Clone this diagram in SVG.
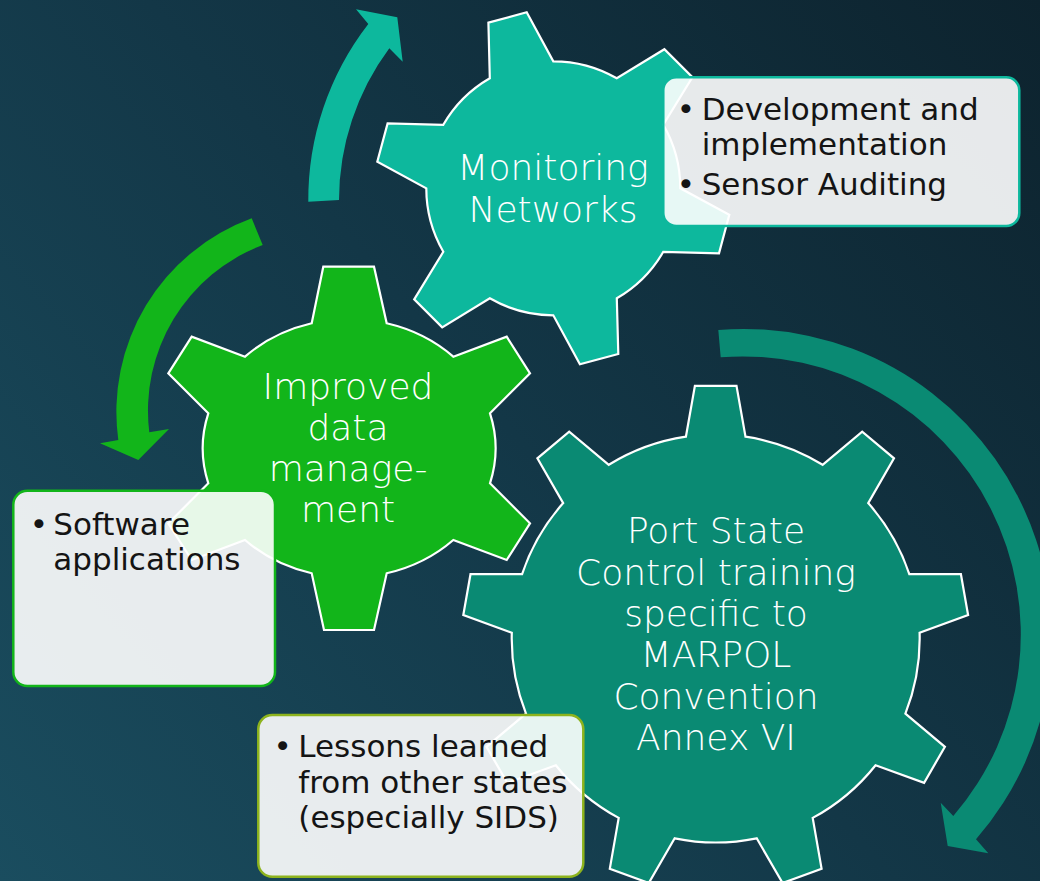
<svg xmlns="http://www.w3.org/2000/svg" width="1040" height="881" viewBox="0 0 1040 881">
<defs>
<linearGradient id="bg" x1="1040" y1="0" x2="0" y2="881" gradientUnits="userSpaceOnUse">
<stop offset="0" stop-color="#0d232e"/>
<stop offset="0.5" stop-color="#133747"/>
<stop offset="1" stop-color="#1a4d5f"/>
</linearGradient>
<style>
.gear{stroke:#ffffff;stroke-width:2.2;stroke-linejoin:miter}
.c1{fill:#0db89d}
.c2{fill:#12b51a}
.c3{fill:#0a8a73}
.gt{font-family:"DejaVu Sans","Liberation Sans",sans-serif;font-size:36px;fill:#ffffff;text-anchor:middle;font-weight:200}
.box{fill:#ffffff;fill-opacity:0.9;stroke-width:2.5}
.bt{font-family:"DejaVu Sans","Liberation Sans",sans-serif;font-size:31px;fill:#141414}
.bu{font-family:"DejaVu Sans","Liberation Sans",sans-serif;font-size:31px;fill:#141414;text-anchor:middle}
</style>
</defs>
<rect x="0" y="0" width="1040" height="881" fill="url(#bg)"/>
<g id="connectors">
<path id="arrow-monitoring" class="c1" d="M 308.3 201.7 A 287 287 0 0 1 368.3 24 L 356 9.3 L 397.3 17.3 L 402.7 61.7 L 389.3 48.3 A 256 256 0 0 0 339 200 Z"/>
<path id="arrow-data" class="c2" d="M 251.7 218.3 A 206 206 0 0 0 118.3 440 L 100 443.3 L 138.3 460 L 169 429 L 149.3 432.3 A 177 177 0 0 1 262.7 245 Z"/>
<path id="arrow-psc" class="c3" d="M 718.3 330 A 308 308 0 0 1 976 839.3 L 988.3 853.3 L 947.7 846 L 940.7 802.7 L 953.3 816 A 278 278 0 0 0 720.7 357.3 Z"/>
</g>
<g id="gear-monitoring">
<path class="gear c1" d="M 489.8 78.3 L 488.4 22.6 L 526.7 12.3 L 553.3 61.3 A 127 127 0 0 1 616.8 78.3 L 664.4 49.2 L 692.4 77.2 L 663.3 124.8 A 127 127 0 0 1 680.3 188.3 L 729.3 214.9 L 719 253.3 L 663.3 251.8 A 127 127 0 0 1 616.8 298.3 L 618.3 354 L 579.9 364.3 L 553.3 315.3 A 127 127 0 0 1 489.8 298.3 L 442.2 327.4 L 414.2 299.4 L 443.3 251.8 A 127 127 0 0 1 426.3 188.3 L 377.3 161.7 L 387.6 123.4 L 443.3 124.8 A 127 127 0 0 1 489.8 78.3 Z"/>
<text class="gt"><tspan x="553" y="180">Monitoring</tspan><tspan x="553" y="221.7">Networks</tspan></text>
</g>
<g id="gear-data">
<path class="gear c2" d="M 311.7 323.3 L 323.3 266.7 L 374 266.7 L 386.7 323.3 A 148 129 0 0 1 453.3 356.7 L 506.7 336.7 L 530 373.3 L 490 413.3 A 148 129 0 0 1 490 483.3 L 530 523.3 L 506.7 560 L 453.3 540 A 148 129 0 0 1 386.7 573.3 L 374 630 L 324 630 L 311.7 573.3 A 148 129 0 0 1 245 540 L 191.7 560 L 168.3 523.3 L 208.3 483.3 A 148 129 0 0 1 208.3 413.3 L 168.3 373.3 L 191.7 336.7 L 245 356.7 A 148 129 0 0 1 311.7 323.3 Z"/>
<text class="gt"><tspan x="348" y="399">Improved</tspan><tspan x="348" y="440">data</tspan><tspan x="348" y="481">manage-</tspan><tspan x="348" y="522">ment</tspan></text>
</g>
<g id="gear-psc">
<path class="gear c3" d="M 685.9 436.7 L 694.9 385.9 L 736.5 385.9 L 745.5 436.7 A 204 204 0 0 1 822.6 464.8 L 862.2 431.6 L 894 458.3 L 868.2 503.1 A 204 204 0 0 1 909.3 574.1 L 960.9 574.2 L 968.1 615.1 L 919.6 632.8 A 204 204 0 0 1 905.4 713.6 L 944.9 746.8 L 924.1 782.8 L 875.6 765.2 A 204 204 0 0 1 812.7 817.9 L 821.6 868.8 L 782.6 883 L 756.7 838.3 A 204 204 0 0 1 674.7 838.3 L 648.8 883 L 609.8 868.8 L 618.7 817.9 A 204 204 0 0 1 555.8 765.2 L 507.3 782.8 L 486.5 746.8 L 526 713.6 A 204 204 0 0 1 511.8 632.8 L 463.3 615.1 L 470.5 574.2 L 522.1 574.1 A 204 204 0 0 1 563.2 503.1 L 537.4 458.3 L 569.2 431.6 L 608.8 464.8 A 204 204 0 0 1 685.9 436.7 Z"/>
<text class="gt"><tspan x="716" y="543.3">Port State</tspan><tspan x="716" y="584.6">Control training</tspan><tspan x="716" y="625.9">specific to</tspan><tspan x="716" y="667.2">MARPOL</tspan><tspan x="716" y="708.5">Convention</tspan><tspan x="716" y="749.8">Annex VI</tspan></text>
</g>
<g id="box-monitoring">
<rect class="box" x="663.3" y="77.3" width="356" height="148.7" rx="13" stroke="#0db89d"/>
<text class="bu"><tspan x="685.8" y="120">•</tspan><tspan x="685.8" y="195">•</tspan></text>
<text class="bt"><tspan x="701.7" y="120">Development and</tspan><tspan x="701.7" y="155">implementation</tspan><tspan x="701.7" y="195">Sensor Auditing</tspan></text>
</g>
<g id="box-data">
<rect class="box" x="13.3" y="490.7" width="261.7" height="195.3" rx="14" stroke="#12b51a"/>
<text class="bu" x="38.8" y="535">•</text>
<text class="bt"><tspan x="53.3" y="535">Software</tspan><tspan x="53.3" y="570">applications</tspan></text>
</g>
<g id="box-psc">
<rect class="box" x="258.3" y="715" width="325" height="161.7" rx="14" stroke="#8db31d"/>
<text class="bu" x="282.7" y="756.7">•</text>
<text class="bt"><tspan x="298.3" y="756.7">Lessons learned</tspan><tspan x="298.3" y="792.5">from other states</tspan><tspan x="298.3" y="828.3">(especially SIDS)</tspan></text>
</g>
</svg>
